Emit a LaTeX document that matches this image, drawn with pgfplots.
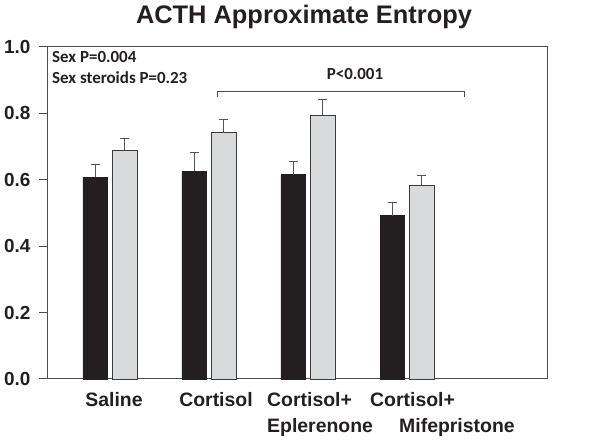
\documentclass[border=0pt]{standalone}
\usepackage{pgfplots}
\pgfplotsset{compat=1.18}
\usepackage{fontspec}
\setmainfont{Liberation Sans}
\newfontfamily\calib{Carlito}
\definecolor{barblack}{HTML}{231F20}
\definecolor{bargray}{HTML}{D9DADC}
\definecolor{edgegray}{HTML}{3A3A3A}
\definecolor{axisgray}{HTML}{4D4D4D}
\definecolor{errgray}{HTML}{555555}
\begin{document}
\begin{tikzpicture}[x=1bp,y=1bp]
\path[use as bounding box] (0,0) rectangle (600,442);
\begin{axis}[
  at={(47bp,63bp)}, anchor=south west,
  scale only axis, width=500bp, height=332bp,
  xmin=-0.636, xmax=4.414, ymin=0, ymax=1,
  ytick={0,0.2,0.4,0.6,0.8,1.0},
  xtick=\empty,
  ytick pos=left,
  tick align=outside,
  major tick length=8bp,
  tick style={axisgray, line width=1bp},
  axis line style={axisgray, line width=1bp},
  yticklabel style={/pgf/number format/.cd, fixed, fixed zerofill, precision=1, assume math mode=true},
  tick label style={font=\fontsize{19}{19}\selectfont\bfseries, text=barblack, xshift=-5bp},
  ybar, bar width=24.5bp,
  clip=false,
]
\addplot[bar shift=-14.75bp, fill=barblack, draw=barblack, line width=0.8bp,
  error bars/.cd, y dir=plus, y explicit,
  error bar style={errgray, line width=1.2bp},
  error mark options={errgray, line width=1.2bp, mark size=4.5bp, rotate=90}]
  coordinates {
    (0,0.607) +- (0,0.040)
    (1,0.625) +- (0,0.057)
    (2,0.615) +- (0,0.040)
    (3,0.492) +- (0,0.039)
  };
\addplot[bar shift=14.75bp, fill=bargray, draw=edgegray, line width=0.8bp,
  error bars/.cd, y dir=plus, y explicit,
  error bar style={errgray, line width=1.2bp},
  error mark options={errgray, line width=1.2bp, mark size=4.5bp, rotate=90}]
  coordinates {
    (0,0.689) +- (0,0.036)
    (1,0.742) +- (0,0.039)
    (2,0.795) +- (0,0.048)
    (3,0.583) +- (0,0.030)
  };
\draw[axisgray, line width=1bp] (axis cs:1.081,0.850) -- (axis cs:1.081,0.865) -- (axis cs:3.576,0.865) -- (axis cs:3.576,0.850);
\end{axis}
\node[anchor=base, font=\fontsize{25.5}{25.5}\selectfont\bfseries, text=barblack] at (304,418) {ACTH Approximate Entropy};
\node[anchor=base west, inner sep=0, font=\calib\fontsize{17}{17}\selectfont\bfseries, text=barblack] at (52,379.3) {Sex P=0.004};
\node[anchor=base west, inner sep=0, font=\calib\fontsize{17}{17}\selectfont\bfseries, text=barblack] at (52,358.7) {Sex steroids P=0.23};
\node[anchor=base, inner sep=0, font=\calib\fontsize{17}{17}\selectfont\bfseries, text=barblack] at (355,362) {P<0.001};
\tikzset{cat/.style={inner sep=0, font=\fontsize{19.5}{19.5}\selectfont\bfseries, text=barblack}}
\node[cat, anchor=base] at (114,35.5) {Saline};
\node[cat, anchor=base] at (216,35.5) {Cortisol};
\node[cat, anchor=base west] at (267,35.5) {Cortisol+};
\node[cat, anchor=base west] at (267,9.7) {Eplerenone};
\node[cat, anchor=base west] at (370,35.5) {Cortisol+};
\node[cat, anchor=base west] at (399,9.7) {Mifepristone};
\end{tikzpicture}
\end{document}
